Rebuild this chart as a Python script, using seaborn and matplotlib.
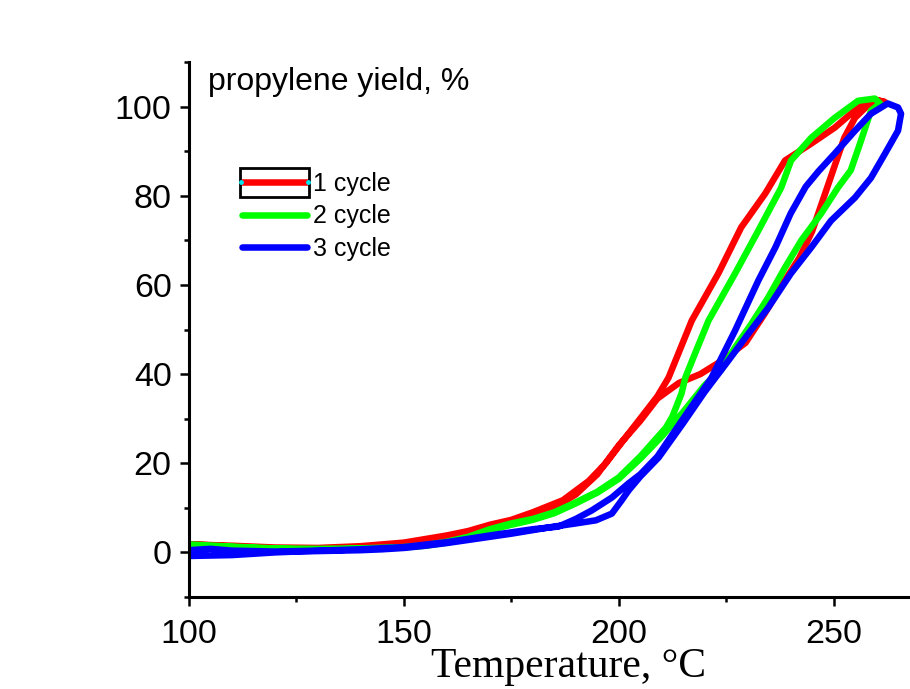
import matplotlib
matplotlib.use("Agg")
import matplotlib.pyplot as plt
import seaborn as sns
import pandas as pd
from matplotlib.ticker import MultipleLocator
from matplotlib.patches import Rectangle
from matplotlib.lines import Line2D

# cycle 1 (red): heating then cooling, one closed loop
t_c1 = [100, 105, 110, 115, 120, 125, 130, 135, 140, 145, 150, 155, 160, 165, 170, 175,
        180, 185, 190, 195, 200, 205, 209, 214, 219, 224, 229.5, 234, 238, 242, 245, 247.5,
        250, 252.5, 255, 258, 260.5, 262,
        260, 255.7, 250.3, 244.8, 238.7, 234.1, 228.5, 223.2, 217, 211.6, 209, 205, 201.6,
        197, 193, 187, 180, 175, 170, 165, 160, 150, 140, 130, 120, 110, 100]
y_c1 = [1.8, 1.6, 1.3, 1.0, 0.7, 0.6, 0.6, 0.8, 1.0, 1.3, 1.7, 2.4, 3.4, 4.5, 5.6, 6.6,
        8.0, 10.0, 13.0, 17.5, 24.0, 29.5, 34.5, 38.0, 40.0, 43.0, 47.0, 53.6, 60.0, 66.0, 72.0, 79.0,
        86.0, 93.0, 97.5, 100.3, 101.3, 101.0,
        101.5, 99.8, 95.3, 91.7, 87.9, 80.5, 72.9, 62.6, 52.0, 39.2, 35.0, 30.0, 25.8,
        20.0, 16.0, 11.7, 9.0, 7.3, 6.2, 4.8, 3.8, 2.2, 1.4, 1.0, 1.1, 1.5, 1.8]

# cycle 2 (green)
t_c2 = [100, 105, 110, 115, 120, 125, 130, 135, 140, 145, 150, 155, 160, 165, 170, 175,
        180, 185, 190, 195, 200, 205, 210, 215, 220, 223.9, 227.1, 230.9, 234.8, 238.7, 242.5,
        247.1, 251, 254, 256.4, 258.7, 260.8,
        259.6, 255.7, 250.3, 244.8, 240.1, 237.8, 232.5, 227.1, 220.9, 217.5, 215.5, 214.6,
        212.5, 211, 205, 200, 195, 190, 185, 180, 175, 170, 165, 160, 155, 150, 140, 130,
        120, 110, 100]
y_c2 = [1.5, 1.3, 1.2, 1.0, 0.8, 0.7, 0.7, 0.7, 0.8, 0.9, 1.1, 1.5, 2.2, 3.3, 5.0, 6.2,
        7.3, 8.8, 11.0, 13.4, 16.5, 21.0, 26.0, 31.5, 37.5, 41.0, 46.0, 51.3, 57.2, 63.9, 70.0,
        76.0, 81.8, 85.7, 92.4, 99.1, 100.7,
        101.8, 101.3, 97.5, 93.0, 87.9, 81.8, 72.2, 62.6, 52.0, 44.0, 39.2, 35.6,
        30.5, 28.0, 21.5, 16.8, 13.6, 11.2, 9.0, 7.5, 6.5, 5.2, 3.5, 2.4, 1.6, 1.2, 0.9, 0.8,
        0.9, 1.3, 1.8]

# cycle 3 (blue)
t_c3 = [100, 105, 110, 115, 120, 125, 130, 135, 140, 145, 150, 155, 160, 165, 170, 175,
        180, 185, 190, 194.7, 198.4, 200.7, 202.3, 205, 209.3, 215, 220, 225.5, 230.2, 234.8,
        240.1, 244.8, 249.4, 255, 258.7, 262, 265, 265.7,
        265, 262.6, 258.7, 255, 250.3, 246.5, 243.5, 240, 236.5, 232.5, 227.1, 221.6, 215, 209,
        205, 202.3, 198.4, 193.7, 190, 186, 180, 170, 160, 150, 140, 130, 120, 110, 105, 100]
y_c3 = [-0.8, -0.7, -0.6, -0.3, 0.0, 0.2, 0.3, 0.4, 0.5, 0.7, 1.0, 1.5, 2.1, 2.8, 3.5, 4.2,
        5.0, 5.8, 6.5, 7.2, 8.7, 11.7, 13.9, 17.0, 21.3, 29.0, 36.0, 43.0, 49.1, 54.9,
        62.6, 68.4, 74.4, 79.6, 84.0, 89.5, 94.6, 98.4,
        99.8, 100.7, 98.4, 94.6, 89.5, 85.5, 82.0, 76.0, 68.5, 61.0, 49.8, 39.2, 30.0, 21.5,
        17.5, 15.5, 12.3, 9.4, 7.5, 5.8, 5.2, 3.8, 2.3, 1.2, 0.7, 0.4, 0.2, 0.4, 0.8, 0.5]

cycles = ["1 cycle", "2 cycle", "3 cycle"]
colors = ["#ff0000", "#00ff00", "#0000ff"]

frames = []
for name, t, y in zip(cycles, [t_c1, t_c2, t_c3], [y_c1, y_c2, y_c3]):
    frames.append(pd.DataFrame({"T": t, "Y": y, "cycle": name}))
df = pd.concat(frames, ignore_index=True)

sns.set_style("ticks")
plt.rcParams["font.family"] = ["Liberation Sans", "DejaVu Sans"]
plt.rcParams["text.color"] = "black"
plt.rcParams["xtick.color"] = "black"
plt.rcParams["ytick.color"] = "black"

fig = plt.figure(figsize=(9.1, 6.89), dpi=100)
# axes run past the right edge of the picture, as in the reference crop
ax = fig.add_axes([189 / 910, 92 / 689, 752 / 910, 535 / 689])

sns.lineplot(data=df, x="T", y="Y", hue="cycle", palette=colors, sort=False,
             estimator=None, linewidth=4.7, ax=ax, legend=True)
for ln in ax.get_lines():
    ln.set_solid_capstyle("round")
    ln.set_solid_joinstyle("round")

ax.set_xlim(100, 275)
ax.set_ylim(-10, 110)
ax.xaxis.set_major_locator(MultipleLocator(50))
ax.xaxis.set_minor_locator(MultipleLocator(25))
ax.yaxis.set_major_locator(MultipleLocator(20))
ax.yaxis.set_minor_locator(MultipleLocator(10))

for side in ["top", "right"]:
    ax.spines[side].set_visible(False)
for side in ["left", "bottom"]:
    ax.spines[side].set_linewidth(2.2)
    ax.spines[side].set_color("black")

ax.tick_params(which="major", direction="out", length=6.5, width=1.8, labelsize=24.5,
               labelcolor="black", color="black")
ax.tick_params(which="minor", direction="out", length=3.5, width=1.8, color="black")
ax.tick_params(axis="x", which="major", pad=9)
ax.tick_params(axis="y", which="major", pad=6)

ax.set_ylabel("")
ax.set_xlabel("Temperature, °C", fontsize=30, color="black",
              family=["Liberation Serif", "DejaVu Serif"])
ax.xaxis.set_label_coords(0.505, -0.095)

ax.text(0.025, 0.948, "propylene yield, %", transform=ax.transAxes, fontsize=23,
        va="baseline", ha="left", color="black")

handles, labels = ax.get_legend_handles_labels()
leg = ax.legend(handles, labels, loc="upper left", bbox_to_anchor=(0.0705, 0.794),
                frameon=False, fontsize=18, handlelength=2.6, handletextpad=0.25,
                labelspacing=0.33, borderpad=0, borderaxespad=0, labelcolor="black")
for ln in leg.get_lines():
    ln.set_linewidth(4.7)
    ln.set_solid_capstyle("round")

# selection box drawn round the first legend sample
fig.canvas.draw()
first = leg.get_lines()[0]
pts = first.get_transform().transform(first.get_xydata())
x0, x1 = pts[:, 0].min(), pts[:, 0].max()
yc = pts[:, 1].mean()
inv = fig.transFigure.inverted()
(fx0, fy0), (fx1, fy1) = inv.transform([(x0 - 2, yc - 14.5), (x1 + 2, yc + 14.5)])
fig.add_artist(Rectangle((fx0, fy0), fx1 - fx0, fy1 - fy0, fill=False, edgecolor="black",
                         linewidth=2.0, transform=fig.transFigure))
(cx0, cy), (cx1, _) = inv.transform([(x0 - 1, yc), (x1 + 1, yc)])
fig.add_artist(Line2D([cx0, cx1], [cy, cy], linestyle="none", marker="o", markersize=2.5,
                      color="#00e5ee", transform=fig.transFigure))

fig.savefig("out.png", dpi=100)
